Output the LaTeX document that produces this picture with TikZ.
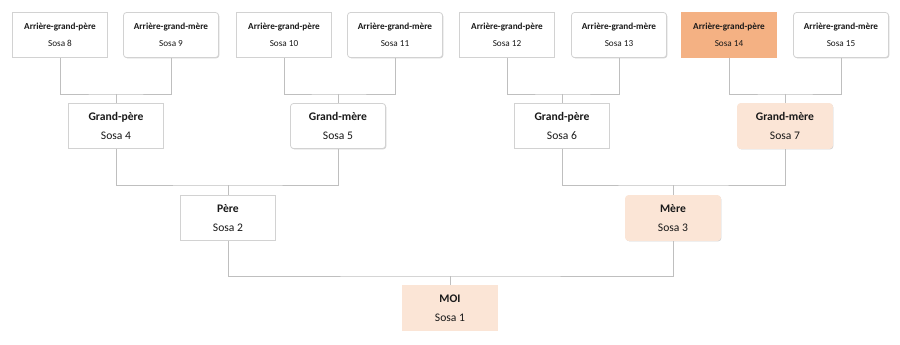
\documentclass[tikz,border=0pt]{standalone}
\usepackage{fontspec}
\setmainfont{Carlito}
\definecolor{boxLine}{RGB}{210, 210, 210}
\definecolor{linkGray}{RGB}{191, 191, 191}
\definecolor{sosaOrange}{RGB}{244, 177, 131}
\definecolor{sosaPeach}{RGB}{251, 229, 214}
\usepackage{tikz}
\usetikzlibrary{calc, shadows}

\begin{document}
\begin{tikzpicture}[
    x=1pt, y=-1pt,
    person/.style={rectangle, draw=boxLine, fill=white, line width=0.8pt,
                   minimum width=95pt, minimum height=45pt, align=center,
                   text=black!90,
                   drop shadow={shadow xshift=0.8pt, shadow yshift=-0.8pt,
                                opacity=0.18, fill=black}},
    female/.style={person, rounded corners=3pt},
    ancestor/.style={font=\fontsize{9.2}{16.5}\selectfont},
    parent/.style={font=\fontsize{11.6}{18.5}\selectfont},
    marked/.style={fill=sosaPeach, draw=sosaPeach},
    link/.style={draw=linkGray, line width=0.8pt},
  ]
    \useasboundingbox (0,0) rectangle (900,345);

    % Arriere-grands-parents
    \foreach \num/\xx/\kind/\lbl in {
      8/60/person/Arrière-grand-père,
      9/171/female/Arrière-grand-mère,
      10/284/person/Arrière-grand-père,
      11/395/female/Arrière-grand-mère,
      12/507/person/Arrière-grand-père,
      13/619/female/Arrière-grand-mère,
      15/841/female/Arrière-grand-mère}
    {
      \node[\kind, ancestor] (S\num) at (\xx,35) {\textbf{\lbl}\\Sosa \num};
    }
    \node[person, ancestor, fill=sosaOrange, draw=sosaOrange] (S14) at (729,35)
      {\textbf{Arrière-grand-père}\\Sosa 14};

    % Grands-parents
    \node[person, parent] (S4) at (116,126) {\textbf{Grand-père}\\Sosa 4};
    \node[female, parent] (S5) at (338,126) {\textbf{Grand-mère}\\Sosa 5};
    \node[person, parent] (S6) at (562,126) {\textbf{Grand-père}\\Sosa 6};
    \node[female, parent, marked] (S7) at (785,126) {\textbf{Grand-mère}\\Sosa 7};

    % Parents
    \node[person, parent] (S2) at (228,218) {\textbf{Père}\\Sosa 2};
    \node[female, parent, marked] (S3) at (673,218) {\textbf{Mère}\\Sosa 3};

    % Moi
    \node[person, parent, marked] (S1) at (450,308) {\textbf{MOI}\\Sosa 1};

    % Liens
    \coordinate (J4) at (116,94);
    \coordinate (J5) at (338,94);
    \coordinate (J6) at (562,94);
    \coordinate (J7) at (785,94);
    \coordinate (J2) at (228,185);
    \coordinate (J3) at (673,185);
    \coordinate (J1) at (450,276);
    \foreach \a/\b/\c/\j in {S8/S9/S4/J4, S10/S11/S5/J5, S12/S13/S6/J6,
                             S14/S15/S7/J7, S4/S5/S2/J2, S6/S7/S3/J3,
                             S2/S3/S1/J1}
    {
      \draw[link] (\a.south) |- (\j) -| (\b.south);
      \draw[link] (\j) -- (\c.north);
    }
\end{tikzpicture}
\end{document}
